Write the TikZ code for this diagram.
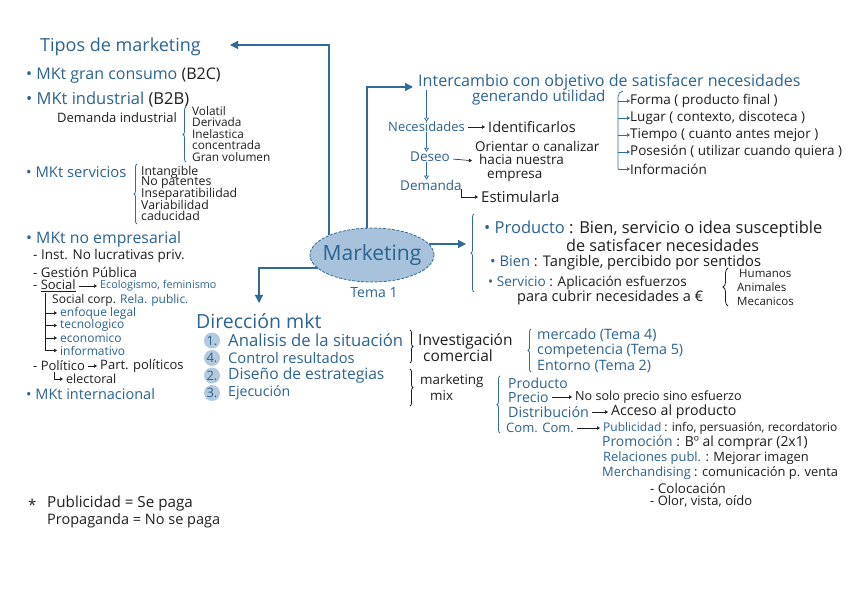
\documentclass[tikz,border=0pt]{standalone}
\usepackage{fontspec}
\setmainfont{Open Sans}
\usetikzlibrary{arrows.meta,calc,decorations.pathreplacing,shapes.geometric}
\definecolor{mktblue}{HTML}{2B6391}
\definecolor{mktline}{HTML}{2F6B9B}
\definecolor{mktfill}{HTML}{A7C2DA}
\definecolor{mktnum}{HTML}{B3C9DE}
\definecolor{ink}{HTML}{1E1E1E}
\newcommand{\az}[1]{\textcolor{mktblue}{#1}}

\begin{document}
\begin{tikzpicture}[x=1pt,y=-1pt,
    txt/.style={anchor=west,inner sep=0pt,text=ink},
    bl/.style={txt,text=mktblue},
    fs/.style={font=\fontsize{#1}{#1}\selectfont},
    lnk/.style={draw=mktline,line width=1.2pt,-{Triangle[length=8pt,width=8pt]}},
    oarr/.style={draw=mktline,line width=.7pt,-{Triangle[open,length=4pt,width=5pt]}},
    sarr/.style={draw=ink,line width=.6pt,shorten <=3pt,shorten >=3pt,-{Triangle[length=3pt,width=3.5pt]}},
    barr/.style={draw=mktline,line width=.6pt,-{Triangle[length=3pt,width=3.5pt]}},
    brc/.style={draw=mktline,line width=.8pt,decorate,decoration={brace,amplitude=3pt}},
    numc/.style={circle,fill=mktnum,text=mktblue,inner sep=0pt,minimum size=16pt,fs=13}]
    \useasboundingbox[fill=white] (0,0) rectangle (848,601);

    % tipos de marketing
    \node[bl,fs=18] (tipos) at (40,47) {Tipos de marketing};
    \node[bl,fs=16] (gran) at (26,76) {\textbullet\ MKt gran consumo \textcolor{ink}{(B2C)}};
    \node[bl,fs=16.5] (ind) at (26,100) {\textbullet\ MKt industrial \textcolor{ink}{(B2B)}};
    \node[txt,fs=13] (demi) at (57,118) {Demanda industrial};
    \draw[brc] (186,162) -- (186,107);
    \foreach \t [count=\i] in {Volatil,Derivada,Inelastica,concentrada,Gran volumen}
        \node[txt,fs=11.8] (di\i) at (192,99.5+11.5*\i) {\t};
    \node[bl,fs=14.8] (serv) at (26,172) {\textbullet\ MKt servicios};
    \draw[brc] (137,224) -- (137,164);
    \foreach \t [count=\i] in {Intangible,No patentes,Inseparatibilidad,Variabilidad,caducidad}
        \node[txt,fs=12.3] (si\i) at (141,161+11*\i) {\t};
    \node[bl,fs=15.8] (noemp) at (26,239) {\textbullet\ MKt no empresarial};
    \node[txt,fs=13.5] (inst) at (33,256) {- Inst. No lucrativas priv.};
    \node[txt,fs=13.3] (gest) at (33,272) {- Gestión Pública};
    \node[txt,fs=13] (soc) at (33,286) {- \underline{Social}};
    \node[bl,fs=10.8] (eco) at (100,286) {Ecologismo, feminismo};
    \draw[sarr] (soc) -- (eco);
    \node[txt,fs=12] (corp) at (52,300) {Social corp. \az{Rela. public.}};
    \coordinate (sl) at (45,293);
    \foreach \t [count=\i] in {enfoque legal,tecnologico,economico,informativo}
        \node[bl,fs=12] (sc\i) at (60,300.5+12.5*\i) {\t};
    \draw[draw=ink,line width=.6pt] (sl) -- (sl |- sc4.west);
    \foreach \i in {1,...,4}
        \draw[sarr,shorten <=0pt] (sl |- sc\i.west) -- (sc\i.west);
    \node[txt,fs=13] (pol) at (33,366) {- Político};
    \node[txt,fs=13] (part) at (100,366) {Part. políticos};
    \draw[sarr] (pol) -- (part);
    \node[txt,fs=12.5] (elec) at (66,379) {electoral};
    \draw[sarr,shorten <=0pt] ($(elec.west)+(-12,-7)$) |- (elec.west);
    \node[bl,fs=14.5] (intl) at (26,394) {\textbullet\ MKt internacional};

    % marketing
    \node[ellipse,draw=mktline,dash pattern=on 3pt off 1.5pt,line width=.8pt,fill=mktfill,
        minimum width=124pt,minimum height=54pt] (mkt) at (372,255) {};
    \node[text=mktblue,fs=21] (mkttxt) at (mkt) {Marketing};
    \node[text=mktblue,fs=14] (tema) at (374,293) {Tema 1};
    \coordinate (tipA) at (230,45);
    \coordinate (tipB) at (413,87);
    \coordinate (tipC) at (466,244);
    \coordinate (tipD) at (259,303);
    \draw[lnk] ($(mkt.center)+(-43,-19.5)$) |- (tipA);
    \draw[lnk] ($(mkt.center)+(-5,-27)$) |- (tipB);
    \draw[lnk] ($(mkt.center)+(57,-11)$) -- (tipC);
    \draw[lnk] ($(mkt.center)+(-54,13)$) -| (tipD);

    % intercambio
    \node[bl,fs=16.1] (inter) at (418,82) {Intercambio con objetivo de satisfacer necesidades};
    \node[bl,fs=15.1] (util) at (472,98) {generando utilidad};
    \foreach \t [count=\i] in {Forma ( producto final ),{Lugar ( contexto, discoteca )},
        Tiempo ( cuanto antes mejor ),Posesión ( utilizar cuando quiera ),Información}
        \node[txt,fs=13.5] (ut\i) at (630,84+17*\i) {\t};
    \coordinate (ul) at (618,97);
    \draw[draw=mktline,line width=.7pt] (623,91) to[out=180,in=90] (ul) -- (ul |- ut5.west);
    \foreach \i in {1,...,5}
        \draw[barr] (ul |- ut\i.west) -- (ut\i.west);
    \node[bl,fs=13] (nec) at (388,127) {Necesidades};
    \node[txt,fs=14.5] (iden) at (488,127) {Identificarlos};
    \draw[sarr] (nec) -- (iden);
    \node[bl,fs=13.5] (des) at (410,157) {Deseo};
    \node[txt,fs=13.5,align=left] (ori) at (475,161) {Orientar o canalizar\\\hspace{4pt}hacia nuestra\\\hspace{12pt}empresa};
    \draw[sarr] (des) -- (ori.west);
    \node[bl,fs=13.5] (dem) at (400,185) {Demanda};
    \node[txt,fs=15] (est) at (481,197) {Estimularla};
    \draw[sarr,shorten <=0pt] ($(est.west)+(-20,-8)$) |- (est.west);
    \draw[oarr] (inter.south west -| nec.north) -- (nec.north);
    \draw[oarr] (nec.south) -- (nec.south |- des.north);
    \draw[oarr] (nec.south |- des.south) -- (nec.south |- dem.north);

    % producto
    \draw[brc] (474,292) -- (474,214);
    \node[txt,fs=16.5] (prod) at (484,229) {\az{\textbullet\ Producto} : Bien, servicio o idea susceptible};
    \node[txt,fs=16.2] (prod2) at (566,245) {de satisfacer necesidades};
    \node[txt,fs=14.7] (bien) at (490,263) {\az{\textbullet\ Bien} : Tangible, percibido por sentidos};
    \node[txt,fs=13.6] (servi) at (488,283) {\az{\textbullet\ Servicio} : Aplicación esfuerzos};
    \node[txt,fs=14.5] (cubr) at (517,298) {para cubrir necesidades a €};
    \draw[brc,draw=ink,decoration={brace,amplitude=5pt}] (728,306) -- (728,268);
    \node[txt,fs=11.5] (hum) at (739,273) {Humanos};
    \node[txt,fs=11.5] (ani) at (737,287) {Animales};
    \node[txt,fs=11.5] (mec) at (737,301) {Mecanicos};

    % direccion
    \node[bl,fs=19.5] (dir) at (196,321) {Dirección mkt};
    \foreach \n/\t/\s [count=\i] in {1/Analisis de la situación/16.7,4/Control resultados/14.7,
        2/Diseño de estrategias/15.6,3/Ejecución/14.1}{
        \node[numc] (n\i) at (212,323+17.5*\i) {\n.};
        \node[bl,fs=\s] (d\i) at (228,323+17.5*\i) {\t};
    }
    \draw[brc,draw=ink] (410,330) -- (410,363);
    \draw[brc,draw=ink] (410,369) -- (410,406);
    \node[txt,fs=15.5] (inv) at (418,341) {Investigación};
    \node[txt,fs=15.5] (comr) at (423,356) {comercial};
    \node[txt,fs=13.4] (mkm) at (420,381) {marketing};
    \node[txt,fs=13.4] (mix) at (430,396) {mix};
    \draw[brc] (531,372) -- (531,329);
    \foreach \t [count=\i] in {mercado (Tema 4),competencia (Tema 5),Entorno (Tema 2)}
        \node[bl,fs=14.3] (ic\i) at (537,320+15.5*\i) {\t};
    \draw[brc] (500,433) -- (500,376);
    \node[bl,fs=14] (mx1) at (508,383) {Producto};
    \node[bl,fs=14] (mx2) at (508,397) {Precio};
    \node[txt,fs=12.6] (mx2b) at (575,397) {No solo precio sino esfuerzo};
    \draw[sarr] (mx2) -- (mx2b);
    \node[bl,fs=14.3] (mx3) at (508,412) {Distribución};
    \node[txt,fs=14.2] (mx3b) at (611,412) {Acceso al producto};
    \draw[sarr] (mx3) -- (mx3b);
    \node[bl,fs=13] (mx4) at (506,428) {Com. Com.};
    \node[txt,fs=12] (pub) at (603,428) {\az{Publicidad} : info, persuasión, recordatorio};
    \draw[sarr] (mx4) -- (pub);
    \node[txt,fs=13.9] (promo) at (602,443) {\az{Promoción} : Bº al comprar (2x1)};
    \node[txt,fs=12.9] (rel) at (603,458) {\az{Relaciones publ.} : Mejorar imagen};
    \node[txt,fs=12.9] (merch) at (602,473) {\az{Merchandising} : comunicación p. venta};
    \node[txt,fs=13.4] (col) at (650,488) {- Colocación};
    \node[txt,fs=13] (olor) at (650,501) {- Olor, vista, oído};

    % nota
    \node[txt,fs=15] (ast) at (28,505) {*};
    \node[txt,fs=15.2] (pub1) at (47,504) {Publicidad = Se paga};
    \node[txt,fs=14.5] (prop) at (47,521) {Propaganda = No se paga};
\end{tikzpicture}
\end{document}
